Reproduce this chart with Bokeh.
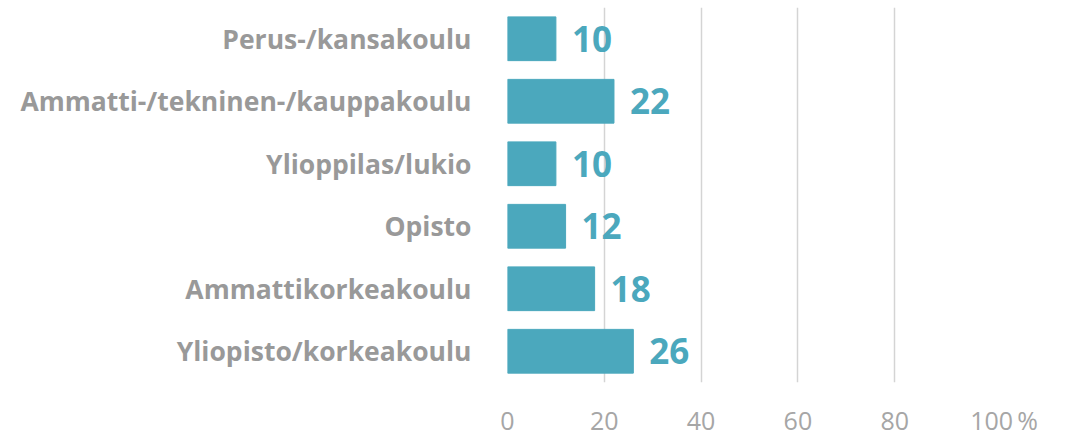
from bokeh.plotting import figure
from bokeh.models import ColumnDataSource, FactorRange, FixedTicker
from bokeh.core.properties import value
from bokeh.embed import file_html
from bokeh.resources import INLINE

categories = ["Perus-/kansakoulu", "Ammatti-/tekninen-/kauppakoulu", "Ylioppilas/lukio",
              "Opisto", "Ammattikorkeakoulu", "Yliopisto/korkeakoulu"]
values = [10, 22, 10, 12, 18, 26]
ticks = [0, 20, 40, 60, 80, 100]
tick_labels = {100: "\u2002\u2002100\u2009%"}

BAR = "#4BA8BD"
GRAY = "#A6A6A6"
CATGRAY = "#999999"
FONT = "Open Sans"

src = ColumnDataSource(dict(cat=categories, val=values, lab=[str(v) for v in values]))

p = figure(width=1069, height=439, output_backend="svg", toolbar_location=None,
           y_range=FactorRange(factors=list(reversed(categories)), range_padding=0),
           x_range=(0, 100), min_border_left=507, min_border_right=78,
           min_border_top=7, min_border_bottom=56)
p.outline_line_color = None
p.background_fill_color = "white"

p.hbar(y="cat", right="val", left=0, height=0.7, source=src, color=BAR)
p.text(x="val", y="cat", text="lab", source=src, x_offset=16,
       text_font=value(FONT), text_font_style="bold", text_font_size="35px",
       text_color=BAR, text_baseline="middle", text_align="left")

p.xaxis.ticker = FixedTicker(ticks=ticks)
p.xaxis.major_label_overrides = tick_labels
p.xaxis.axis_line_color = None
p.xaxis.major_tick_line_color = None
p.xaxis.minor_tick_line_color = None
p.xaxis.major_label_text_font = FONT
p.xaxis.major_label_text_font_size = "25px"
p.xaxis.major_label_text_line_height = 1.0
p.xaxis.major_label_text_color = GRAY
p.xaxis.major_label_standoff = 14

p.yaxis.axis_line_color = None
p.yaxis.major_tick_line_color = None
p.yaxis.minor_tick_line_color = None
p.yaxis.major_label_text_font = FONT
p.yaxis.major_label_text_font_style = "bold"
p.yaxis.major_label_text_font_size = "26.5px"
p.yaxis.major_label_text_color = CATGRAY
p.yaxis.major_label_standoff = 30

p.xgrid.grid_line_color = "#D4D4D4"
p.xgrid.grid_line_width = 1.5
p.xgrid.ticker = FixedTicker(ticks=ticks)
p.ygrid.grid_line_color = None

open("out.html", "w").write(file_html(p, INLINE))
